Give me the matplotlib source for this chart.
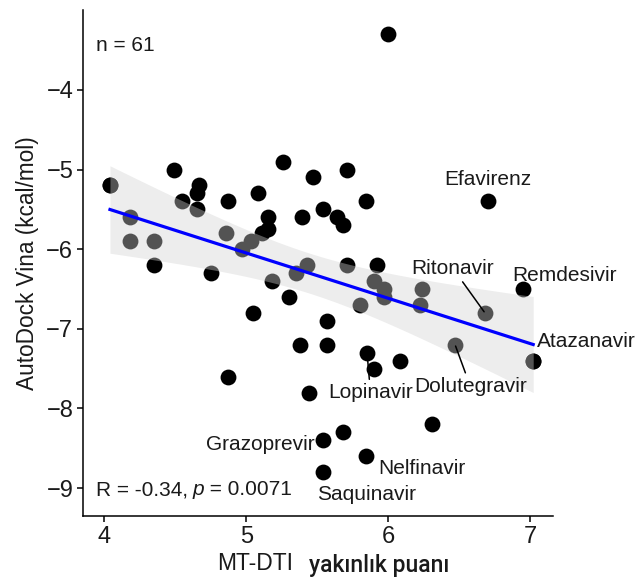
import numpy as np
import matplotlib
matplotlib.use("Agg")
import matplotlib.pyplot as plt

plt.rcParams['font.family'] = ['Liberation Sans', 'DejaVu Sans']

# MT-DTI score (x) and AutoDock Vina energy (y)
mtdti = [4.04, 4.18, 4.18, 4.35, 4.35, 4.49, 4.55, 4.67, 4.65, 4.65,
         4.75, 4.87, 4.86, 4.87, 4.97, 5.03, 5.08, 5.15, 5.15, 5.11,
         5.05, 5.18, 5.30, 5.35, 5.43, 5.26, 5.47, 5.71, 5.84, 5.39,
         5.54, 5.64, 5.68, 5.71, 5.92, 5.90, 5.97, 5.97, 5.80, 6.24,
         6.22, 5.57, 5.38, 5.57, 5.44, 5.85, 5.90, 6.08, 6.31, 5.84,
         5.54, 5.68, 5.54, 6.68, 6.95, 7.02, 6.47, 6.70, 6.00, 4.04,
         7.02]
vina = [-5.2, -5.6, -5.9, -5.9, -6.2, -5.0, -5.4, -5.2, -5.3, -5.5,
        -6.3, -5.4, -5.8, -7.6, -6.0, -5.9, -5.3, -5.6, -5.75, -5.8,
        -6.8, -6.4, -6.6, -6.3, -6.2, -4.9, -5.1, -5.0, -5.4, -5.6,
        -5.5, -5.6, -5.7, -6.2, -6.2, -6.4, -6.5, -6.6, -6.7, -6.5,
        -6.7, -6.9, -7.2, -7.2, -7.8, -7.3, -7.5, -7.4, -8.2, -8.6,
        -8.4, -8.3, -8.8, -6.8, -6.5, -7.4, -7.2, -5.4, -3.3, -5.2,
        -7.4]

# labelled drugs: name, index into the arrays, label offset (points), ha, draw segment
labels = ["Efavirenz", "Ritonavir", "Remdesivir", "Atazanavir", "Dolutegravir",
          "Lopinavir", "Grazoprevir", "Nelfinavir", "Saquinavir"]
label_idx = [57, 53, 54, 55, 56, 45, 50, 49, 52]
label_dx = [0, -23, 30, 3, 11, -28, -6, 9, -4]
label_dy = [16, 32, 10, 14, -30, -29, -3, -9, -16]
label_ha = ["center", "center", "center", "left", "center", "left", "right", "left", "left"]
label_seg = [False, True, False, False, True, True, False, False, False]

r_text = "R = -0.34, "
p_text = "0.0071"
n_text = "n = 61"

FS = 15
fig = plt.figure(figsize=(6.35, 5.78), dpi=100)
ax = fig.add_axes([0.1307, 0.107, 0.871 - 0.1307, 0.983 - 0.107])

x = np.array(mtdti)
y = np.array(vina)
ax.scatter(x, y, s=130, color='black', zorder=2, linewidths=0)

# linear fit with 95% confidence band
b1, b0 = np.polyfit(x, y, 1)
xs = np.linspace(x.min(), x.max(), 100)
ys = b0 + b1 * xs
n = len(x)
resid = y - (b0 + b1 * x)
s = np.sqrt(np.sum(resid ** 2) / (n - 2))
se = s * np.sqrt(1.0 / n + (xs - x.mean()) ** 2 / np.sum((x - x.mean()) ** 2))
tq = 2.001
ax.fill_between(xs, ys - tq * se, ys + tq * se, color='#d2d2d2', alpha=0.4,
                linewidth=0, zorder=3)
ax.plot(xs, ys, color='#0000ff', lw=2.3, zorder=4)

for name, i, dx, dy, ha, seg in zip(labels, label_idx, label_dx, label_dy, label_ha, label_seg):
    if seg:
        ax.annotate(name, (x[i], y[i]), xytext=(dx, dy), textcoords='offset points',
                    ha=ha, va='center', fontsize=FS, color='#1a1a1a', zorder=5,
                    arrowprops=dict(arrowstyle='-', color='black', lw=1.1,
                                    shrinkA=1, shrinkB=1))
    else:
        ax.annotate(name, (x[i], y[i]), xytext=(dx, dy), textcoords='offset points',
                    ha=ha, va='center', fontsize=FS, color='#1a1a1a', zorder=5)

ax.text(3.94, -3.44, n_text, fontsize=FS, ha='left', va='center', color='#1a1a1a')
t1 = ax.text(3.94, -9.02, r_text, fontsize=FS, ha='left', va='center', color='#1a1a1a')
fig.canvas.draw()
bb = t1.get_window_extent()
inv = ax.transData.inverted()
xr = inv.transform((bb.x1, bb.y0))[0]
t2 = ax.text(xr, -9.02, "p", fontsize=FS, ha='left', va='center', style='italic', color='#1a1a1a')
fig.canvas.draw()
bb2 = t2.get_window_extent()
xr2 = inv.transform((bb2.x1, bb2.y0))[0]
ax.text(xr2, -9.02, " = " + p_text, fontsize=FS, ha='left', va='center', color='#1a1a1a')

ax.set_xlim(3.85, 7.16)
ax.set_ylim(-9.352, -2.995)
ax.set_xticks([4, 5, 6, 7])
ax.set_xticklabels(["4", "5", "6", "7"])
ax.set_yticks([-9, -8, -7, -6, -5, -4])
ax.set_yticklabels(["\u22129", "\u22128", "\u22127", "\u22126", "\u22125", "\u22124"])
ax.tick_params(labelsize=17, length=4, width=1.1, colors='black', labelcolor='#1a1a1a', pad=3)
for sp in ['top', 'right']:
    ax.spines[sp].set_visible(False)
for sp in ['left', 'bottom']:
    ax.spines[sp].set_linewidth(1.1)

ax.set_ylabel("AutoDock Vina (kcal/mol)", fontsize=16.3, color='#1a1a1a', labelpad=5)
fig.text(0.462, 0.025, "MT-DTI", fontsize=16.5, ha='right', va='center', color='#1a1a1a')
fig.text(0.487, 0.022, "yakınlık puanı", fontsize=16.5, ha='left', va='center',
         color='#1a1a1a', family='Roboto', weight='medium')

fig.savefig("out.png", dpi=100)
